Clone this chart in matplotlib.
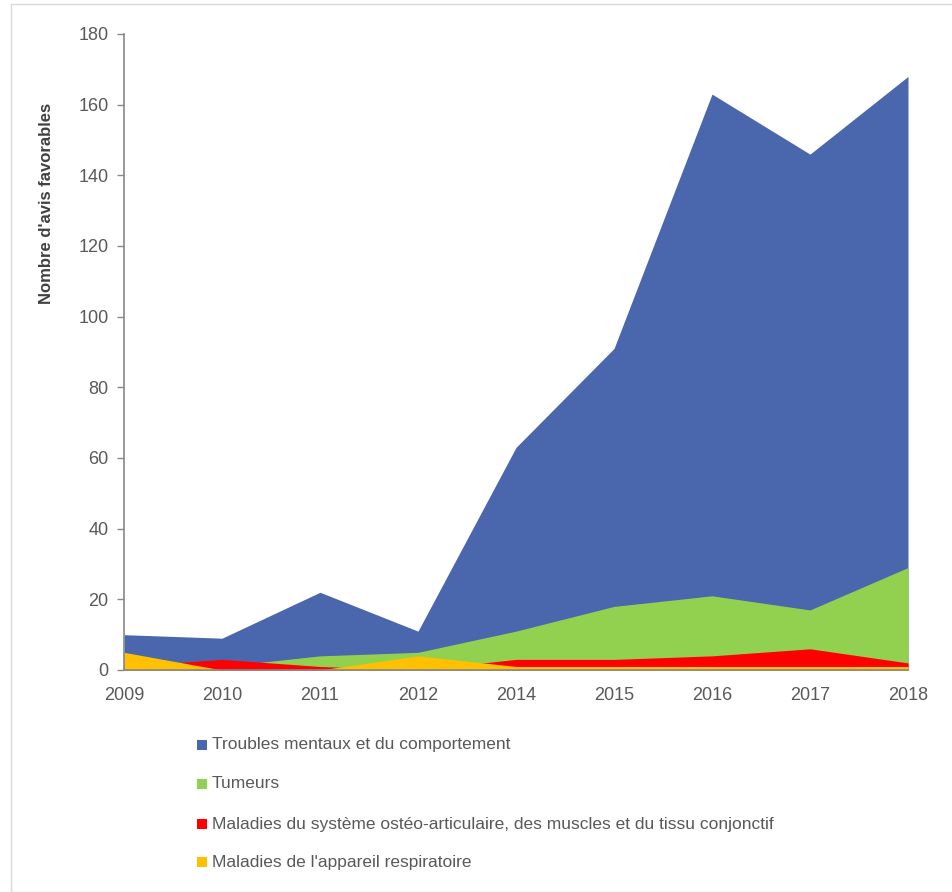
import matplotlib.pyplot as plt
from matplotlib.patches import Rectangle
import numpy as np

plt.rcParams['font.family'] = ['Liberation Sans Narrow', 'Liberation Sans', 'DejaVu Sans']

# données
annees = ['2009', '2010', '2011', '2012', '2014', '2015', '2016', '2017', '2018']
troubles_mentaux = [10, 9, 22, 11, 63, 91, 163, 146, 168]
tumeurs = [0, 1, 4, 5, 11, 18, 21, 17, 29]
osteo_articulaire = [1, 3, 1, 0, 3, 3, 4, 6, 2]
respiratoire = [5, 0, 0, 4, 1, 1, 1, 1, 1]

series = [
    ("Troubles mentaux et du comportement", troubles_mentaux, '#4A66AC'),
    ("Tumeurs", tumeurs, '#92D050'),
    ("Maladies du système ostéo-articulaire, des muscles et du tissu conjonctif", osteo_articulaire, '#FF0000'),
    ("Maladies de l'appareil respiratoire", respiratoire, '#FFC000'),
]

grey = '#595959'
fig = plt.figure(figsize=(9.53, 8.92), dpi=100)
ax = fig.add_axes([124 / 953, 1 - 670 / 892, (908 - 124) / 953, (670 - 34) / 892])

x = np.arange(len(annees))
# aires superposées (non empilées)
for nom, vals, col in series:
    ax.fill_between(x, 0, vals, color=col, linewidth=0, label=nom)

ax.set_xlim(0, len(annees) - 1)
ax.set_ylim(0, 180)
ax.set_yticks(np.arange(0, 181, 20))
ax.set_xticks(x)
ax.set_xticklabels(annees)
ax.tick_params(axis='x', length=0, pad=12, labelsize=13, colors=grey)
ax.tick_params(axis='y', length=5, width=1, color='#888888', labelsize=13, labelcolor=grey, pad=6)
for s in ['top', 'right']:
    ax.spines[s].set_visible(False)
for s in ['left', 'bottom']:
    ax.spines[s].set_color('#888888')
    ax.spines[s].set_linewidth(1.2)

fig.text(47 / 953, 1 - 203 / 892, "Nombre d'avis favorables", rotation=90,
         ha='center', va='center', fontsize=12, fontweight='bold', color='#404040')

# légende
leg_y = [745, 784, 824, 862]
for (nom, vals, col), yy in zip(series, leg_y):
    fig.patches.append(Rectangle((197 / 953, 1 - (yy + 5) / 892), 10 / 953, 10 / 892,
                                 transform=fig.transFigure, facecolor=col, edgecolor='none'))
    fig.text(212 / 953, 1 - yy / 892, nom, ha='left', va='center', fontsize=12.5, color=grey)

# cadre extérieur
fig.patches.append(Rectangle((11 / 953, 0), 1 - 11 / 953, 1 - 4 / 892, transform=fig.transFigure,
                             facecolor='none', edgecolor='#D9D9D9', linewidth=1))

fig.savefig('out.png', dpi=100)
